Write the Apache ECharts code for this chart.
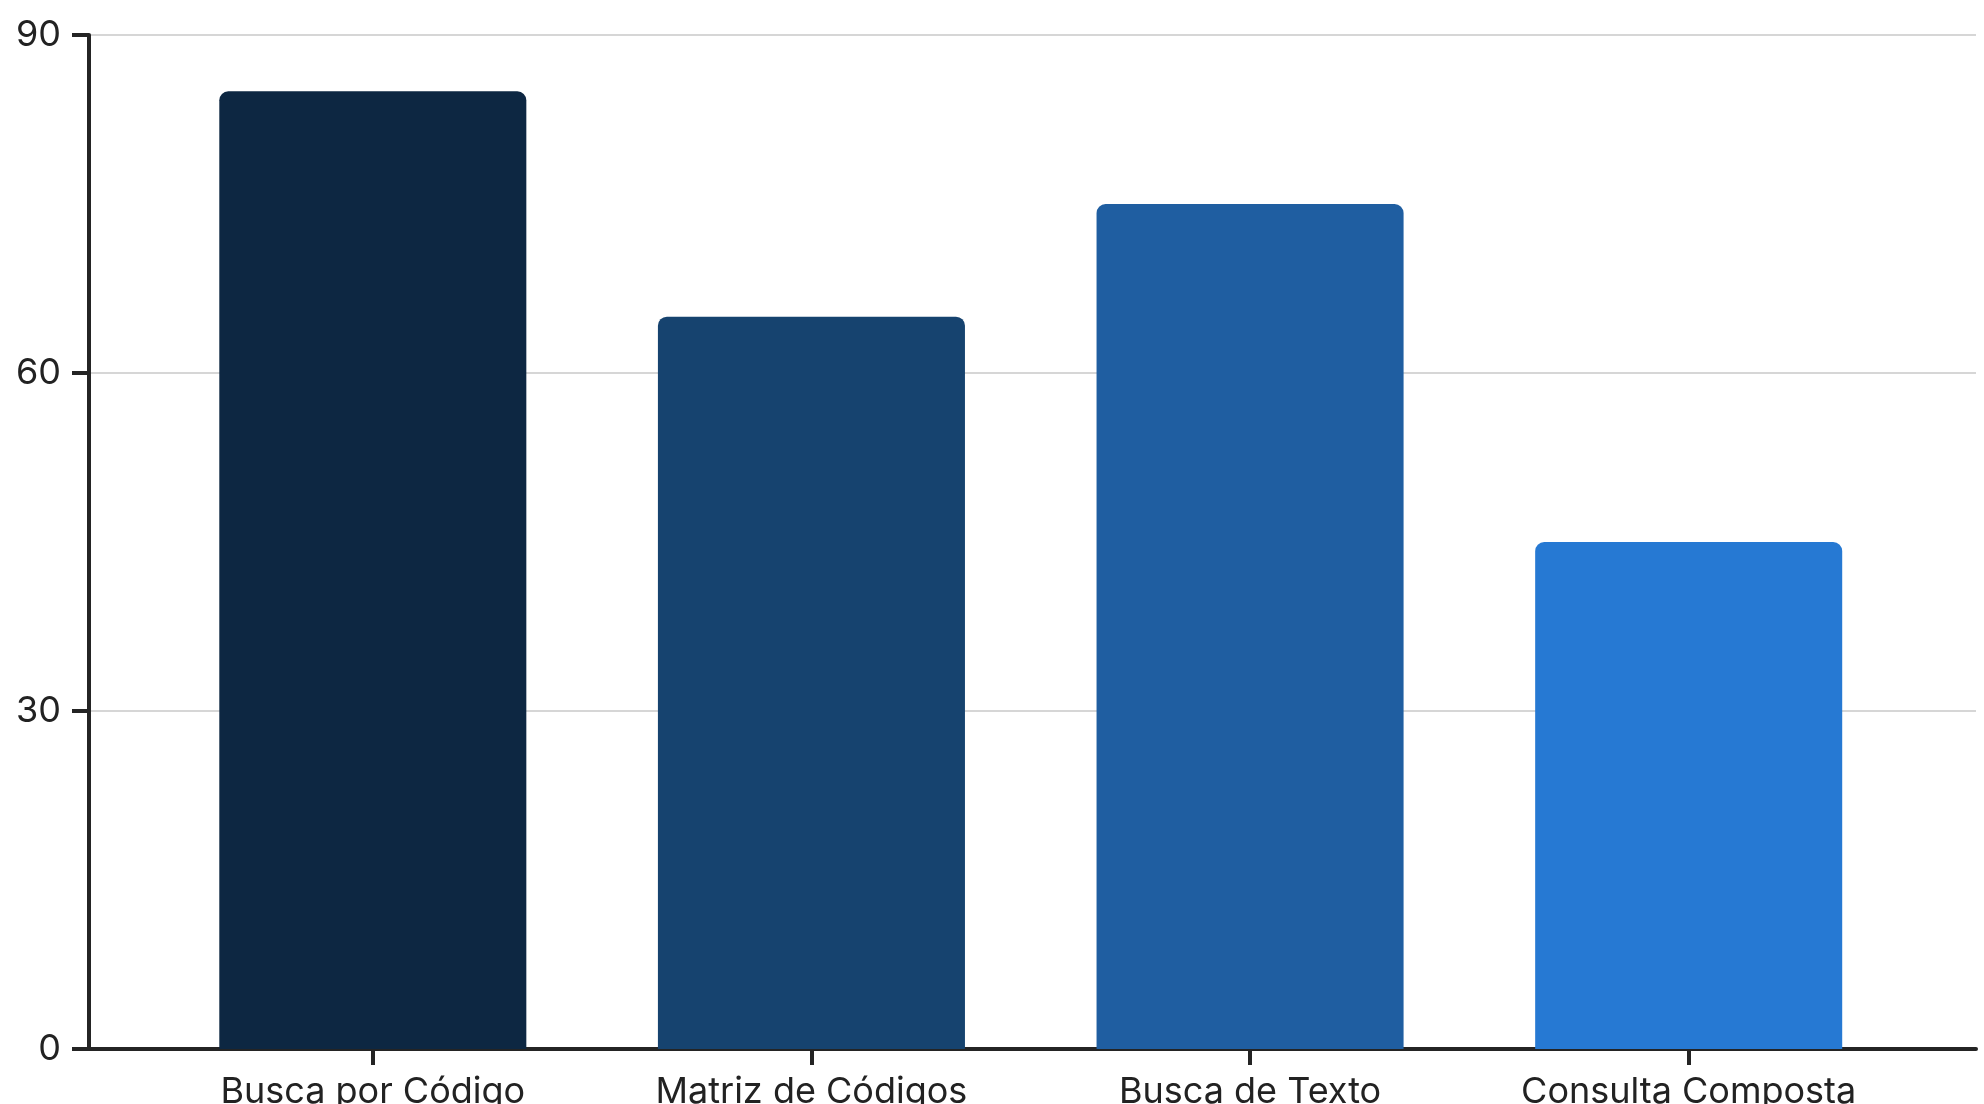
<!DOCTYPE html>
<html><head><meta charset="utf-8">
<script src="https://cdn.jsdelivr.net/npm/echarts@6/dist/echarts.min.js"></script>
<style>html,body{margin:0;padding:0;background:#fff}#c{width:1984px;height:1104px}</style>
</head><body><div id="c"></div>
<script>
const categories = ['Busca por Código', 'Matriz de Códigos', 'Busca de Texto', 'Consulta Composta'];
const values = [85, 65, 75, 45];
const barColors = ['#0d2742', '#16436f', '#1f5ea1', '#2679d3'];
const yTicks = [0, 30, 60, 90];

const chart = echarts.init(document.getElementById('c'), null, {renderer: 'canvas'});
const axisColor = '#242424';
const font = 'Inter, "Noto Sans", sans-serif';
const TOP = 35, BOTTOM = 55;
chart.setOption({
  animation: false,
  backgroundColor: '#fff',
  grid: [
    {left: 89, right: 8, top: TOP, bottom: BOTTOM, containLabel: false, outerBoundsMode: 'none'},
    {left: 153.5, right: 76, top: TOP, bottom: BOTTOM, containLabel: false, outerBoundsMode: 'none'}
  ],
  xAxis: [
    {gridIndex: 0, type: 'value', min: 0, max: 1,
     axisLine: {show: true, onZero: false, lineStyle: {color: axisColor, width: 4}},
     axisTick: {show: false}, axisLabel: {show: false}, splitLine: {show: false}},
    {gridIndex: 1, type: 'category', data: categories, boundaryGap: true,
     axisLine: {show: false},
     axisTick: {show: true, alignWithLabel: true, length: 16, lineStyle: {color: axisColor, width: 4}},
     axisLabel: {color: '#222', fontSize: 36, fontFamily: font, margin: 25}}
  ],
  yAxis: [
    {gridIndex: 0, type: 'value', min: 0, max: 90, interval: 30,
     axisLine: {show: true, lineStyle: {color: axisColor, width: 4}},
     axisTick: {show: true, length: 17, lineStyle: {color: axisColor, width: 4}},
     axisLabel: {color: '#222', fontSize: 36, fontFamily: font, margin: 28,
       formatter: v => yTicks.includes(v) ? String(v) : ''},
     splitLine: {show: true, lineStyle: {color: '#d6d6d6', width: 2}}},
    {gridIndex: 1, type: 'value', min: 0, max: 90, interval: 30, show: false}
  ],
  series: [{
    type: 'bar', xAxisIndex: 1, yAxisIndex: 1, barWidth: '70%', z: 1,
    data: values.map((v, i) => ({value: v, itemStyle: {color: barColors[i], borderRadius: [9, 9, 0, 0]}}))
  }]
});
</script></body></html>
